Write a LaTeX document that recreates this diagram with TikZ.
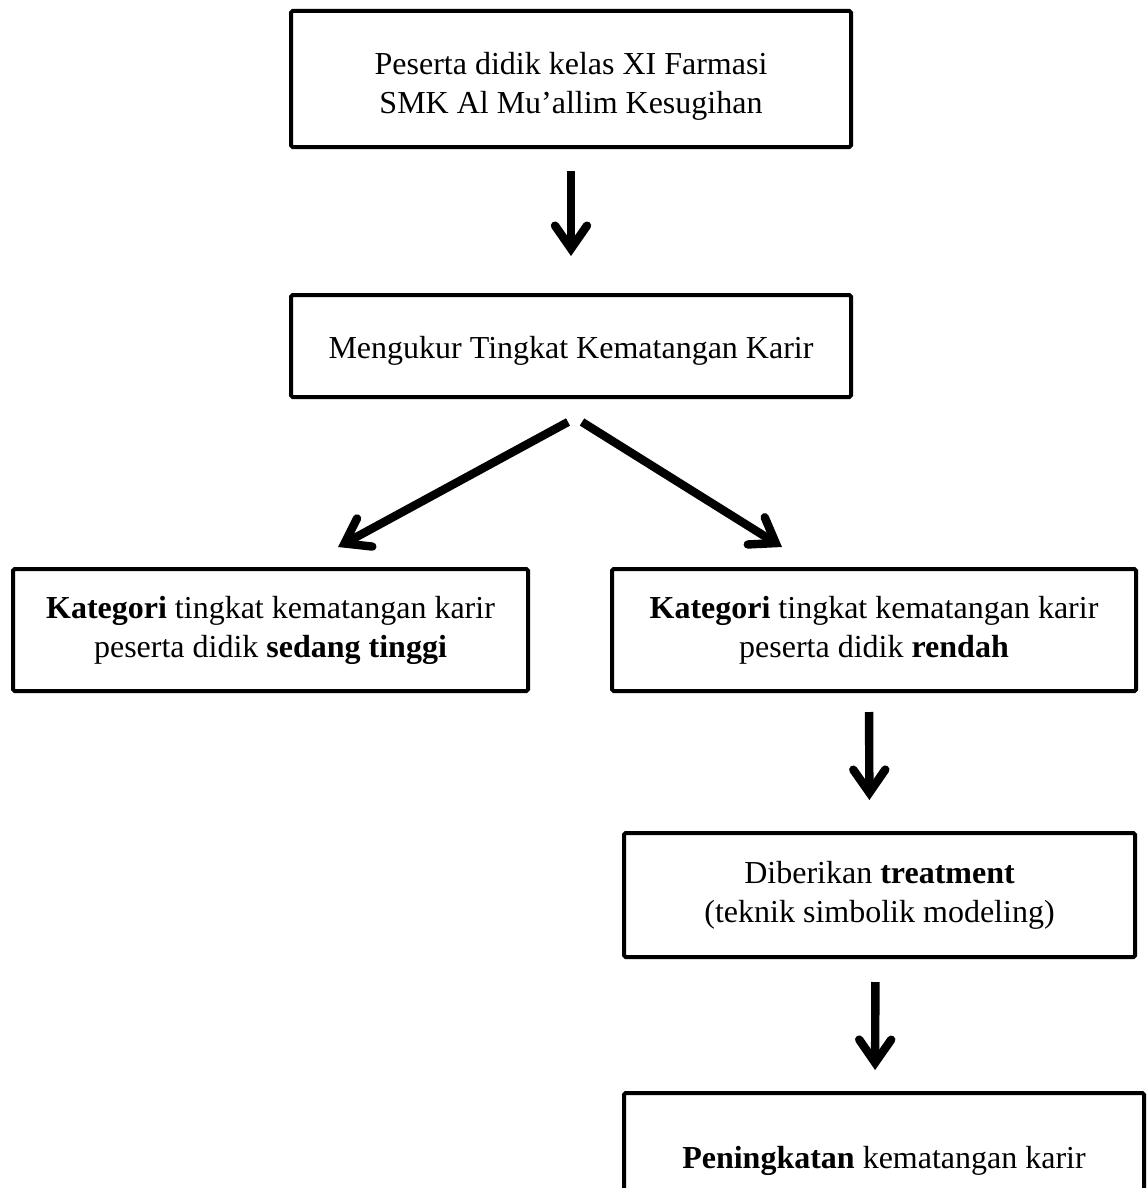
\documentclass[tikz,border=0pt]{standalone}
\usepackage{fontspec}
\setmainfont{Liberation Serif}
\usetikzlibrary{arrows.meta}
\begin{document}
\begin{tikzpicture}[x=0.5pt,y=-0.5pt,
  box/.style={draw, line width=2pt, rounded corners=0.8pt, inner sep=0pt,
    align=center, font=\fontsize{16}{19.5}\selectfont},
  arr/.style={line width=4.2pt, line cap=butt,
    -{Straight Barb[length=11.5pt,width=16pt,line cap=round,line join=miter]}}]
\clip (0,0) rectangle (1147,1188);
% boxes
\node[box, minimum width=280pt, minimum height=68pt] (b1) at (571,79)
  {\rule{0pt}{18pt}Peserta didik kelas XI Farmasi\\SMK Al Mu’allim Kesugihan};
\node[box, minimum width=280pt, minimum height=51pt] (b2) at (571,346)
  {\rule{0pt}{15.5pt}Mengukur Tingkat Kematangan Karir};
\node[box, minimum width=257.5pt, minimum height=61pt] (bl) at (270.5,630)
  {\textbf{Kategori} tingkat kematangan karir\\peserta didik \textbf{sedang tinggi}};
\node[box, minimum width=262pt, minimum height=61pt] (br) at (874,630)
  {\textbf{Kategori} tingkat kematangan karir\\peserta didik \textbf{rendah}};
\node[box, minimum width=255.5pt, minimum height=62pt] (bt) at (879.5,895)
  {Diberikan \textbf{treatment}\\(teknik simbolik modeling)};
\node[box, minimum width=260pt, minimum height=68pt] (bp) at (884,1161)
  {\textbf{Peningkatan} kematangan karir};
% connector ends
\coordinate (s1) at (568,422);
\coordinate (s2) at (582,422);
\coordinate (e1) at (338,547);
\coordinate (e2) at (782,547);
% arrows
\draw[arr, shorten <=11pt, shorten >=18.5pt] (b1.south) -- (b2.north);
\draw[arr] (s1) -- (e1);
\draw[arr] (s2) -- (e2);
\draw[arr, shorten <=9.5pt, shorten >=15.5pt] ([xshift=-2.5pt]br.south) -- ([xshift=-5pt]bt.north);
\draw[arr, shorten <=11.5pt, shorten >=10.5pt] ([xshift=-2pt]bt.south) -- ([xshift=-4.5pt]bp.north);
\end{tikzpicture}
\end{document}
